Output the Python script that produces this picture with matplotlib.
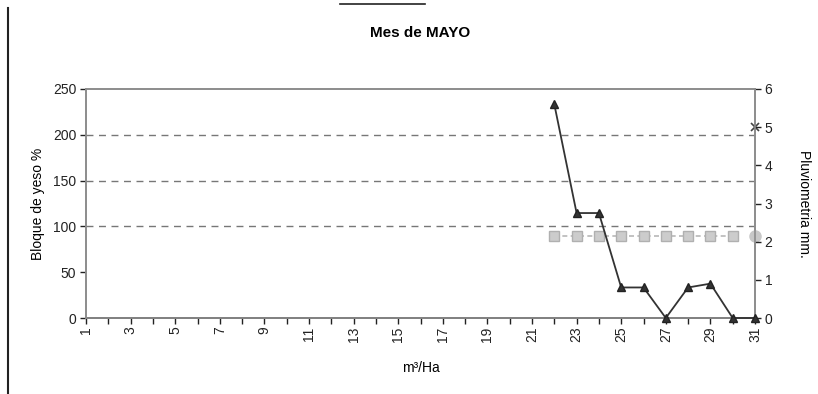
import numpy as np
import matplotlib
matplotlib.use("Agg")
import matplotlib.pyplot as plt
from matplotlib.lines import Line2D

plt.rcParams['font.family'] = ['Liberation Sans', 'DejaVu Sans']

# data
dias = list(range(1, 32))
lluvia_dias = [22, 23, 24, 25, 26, 27, 28, 29, 30, 31]
lluvia_mm = [5.6, 2.75, 2.75, 0.8, 0.8, 0.0, 0.8, 0.9, 0.0, 0.0]
yeso_dias = [22, 23, 24, 25, 26, 27, 28, 29, 30]
yeso_pct = [89, 89, 89, 89, 89, 89, 89, 89, 89]
circulo_dia = [31]
circulo_pct = [89]
cruz_dia = [31]
cruz_pct = [208]

fig = plt.figure(figsize=(8.18, 3.94), dpi=100)
ax = fig.add_axes([86/818, 1-318/394, (755-86)/818, (318-89)/394])
ax2 = ax.twinx()

gris = '#8c8c8c'
ax.set_xlim(1, 31)
ax.set_ylim(0, 250)
ax2.set_ylim(0, 6)
ax.set_yticks([0, 50, 100, 150, 200, 250])
ax2.set_yticks([0, 1, 2, 3, 4, 5, 6])
ax.set_xticks(dias)
ax.set_xticklabels([str(d) if d % 2 == 1 else '' for d in dias], rotation=90)

for v in [100, 150, 200]:
    ax.axhline(v, color='#777777', lw=1.0, ls=(0, (5, 4)), zorder=1)

ax.plot(yeso_dias, yeso_pct, color='#b8b8b8', lw=1.2, ls=(0, (3, 2)),
        marker='s', ms=7.5, mfc='#cccccc', mec='#b0b0b0', zorder=2)
ax.plot(circulo_dia, circulo_pct, ls='none', marker='o', ms=8,
        mfc='#c8c8c8', mec='#c8c8c8', clip_on=False, zorder=3)
ax.plot(cruz_dia, cruz_pct, ls='none', marker='x', ms=6, mew=1.2,
        color='#444444', clip_on=False, zorder=3)
ax2.plot(lluvia_dias, lluvia_mm, color='#333333', lw=1.3, marker='^', ms=6,
         mfc='#333333', mec='#222222', clip_on=False, zorder=4)

for a in (ax, ax2):
    for s in a.spines.values():
        s.set_color(gris)
        s.set_linewidth(1.2)
    a.tick_params(colors='#222222', labelsize=10, length=4, width=1, direction='out')
    a.tick_params(axis='y', pad=3)
ax.spines['bottom'].set_color('#333333')
ax.tick_params(axis='x', pad=2)

ax.set_xlabel('m³/Ha', fontsize=10, labelpad=14)
ax.set_ylabel('Bloque de yeso %', fontsize=10, labelpad=6)
ax2.set_ylabel('Pluviometria mm.', fontsize=10, rotation=-90, labelpad=28)
fig.text(420/818, 1-33/394, 'Mes de MAYO', ha='center', va='center',
         fontsize=11, fontweight='bold')

# marco del grafico
fig.add_artist(Line2D([8/818, 8/818], [0, 1-8/394], color='#222222', lw=1.5))
fig.add_artist(Line2D([340/818, 425/818], [1-4/394, 1-4/394], color='#222222', lw=1.2))

fig.savefig('out.png', dpi=100)
